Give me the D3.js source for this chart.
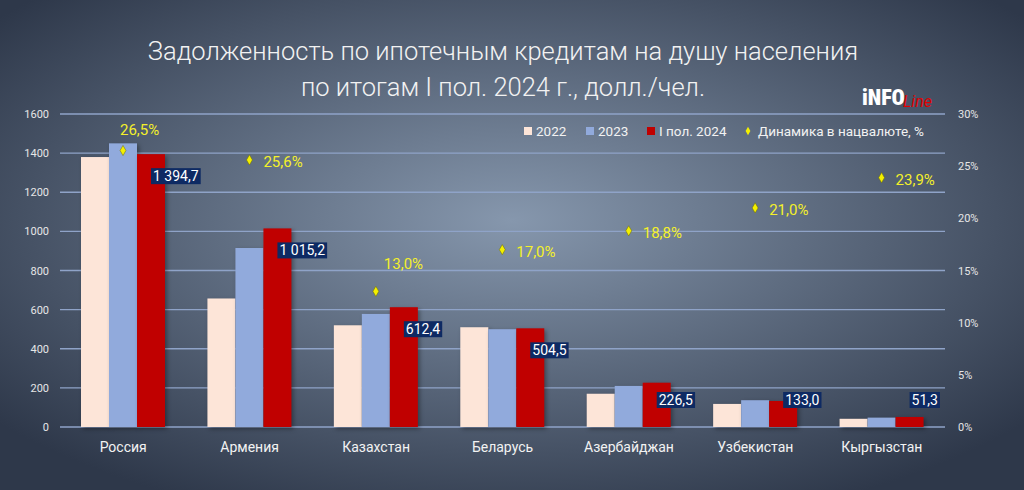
<!DOCTYPE html>
<html><head><meta charset="utf-8">
<script src="https://cdn.jsdelivr.net/npm/d3@7"></script>
<style>
body{margin:0;background:#3a4558;}
text{font-family:Roboto,"Noto Sans",sans-serif;}
</style></head>
<body><svg id="chart" width="1024" height="490"></svg>
<script>
// --- DATA ---
const countries = ["Россия","Армения","Казахстан","Беларусь","Азербайджан","Узбекистан","Кыргызстан"];
const series = ["2022","2023","I пол. 2024"];
const v2022 = [1380, 657, 520, 510, 170, 118, 42];
const v2023 = [1450, 915, 578, 500, 210, 137, 48];
const v2024 = [1394.7, 1015.2, 612.4, 504.5, 226.5, 133.0, 51.3];
const dynamics = [26.5, 25.6, 13.0, 17.0, 18.8, 21.0, 23.9];
const leftTicks = [0,200,400,600,800,1000,1200,1400,1600];
const rightTicks = [0,5,10,15,20,25,30];
const colors = ["#fde5d8", "#91aadc", "#c00000"];

const svg = d3.select("#chart");
const defs = svg.append("defs");
const grad = defs.append("radialGradient").attr("id","bg")
  .attr("cx","50%").attr("cy","45%").attr("r","65%");
grad.append("stop").attr("offset","0%").attr("stop-color","#8697ad");
grad.append("stop").attr("offset","100%").attr("stop-color","#2e384a");
svg.append("rect").attr("width",1024).attr("height",490).attr("fill","url(#bg)");

const fmt = v => d3.format(",.1f")(v).replace(/,/g," ").replace(".",",");

// Title
svg.append("text").attr("x",503).attr("y",60).attr("text-anchor","middle")
  .attr("fill","#f2f2f2").attr("font-size",25.5).attr("font-weight",300)
  .text("Задолженность по ипотечным кредитам на душу населения");
svg.append("text").attr("x",503).attr("y",96).attr("text-anchor","middle")
  .attr("fill","#f2f2f2").attr("font-size",25.5).attr("font-weight",300)
  .text("по итогам I пол. 2024 г., долл./чел.");

// Logo
svg.append("text").attr("x",862).attr("y",105).attr("fill","#fff")
  .attr("font-size",22).attr("font-weight",900).attr("font-stretch","condensed").text("iNFO");
svg.append("text").attr("x",903).attr("y",107).attr("fill","#e00000")
  .attr("font-size",16).attr("font-style","italic").attr("font-family","serif").text("Line");

const x0 = d3.scaleBand().domain(countries).range([60,945]);
const x1 = d3.scaleBand().domain(series).range([21,105]);
const y = d3.scaleLinear().domain([0,1600]).range([427,114]);
const y2 = d3.scaleLinear().domain([0,30]).range([427,114]);

// grid
svg.append("g").selectAll("line").data(leftTicks).join("line")
  .attr("x1",60).attr("x2",945).attr("y1",d=>y(d)).attr("y2",d=>y(d))
  .attr("stroke","#8fa3c8").attr("stroke-width",1.3);

const yAxis = svg.append("g").attr("transform","translate(52,0)")
  .call(d3.axisLeft(y).tickValues(leftTicks).tickSize(0).tickFormat(d3.format("d")));
yAxis.select(".domain").remove();
yAxis.selectAll("text").attr("fill","#e6e6e6").attr("font-size",11);

const yAxis2 = svg.append("g").attr("transform","translate(955,0)")
  .call(d3.axisRight(y2).tickValues(rightTicks).tickSize(0).tickFormat(d=>d+"%"));
yAxis2.select(".domain").remove();
yAxis2.selectAll("text").attr("fill","#e6e6e6").attr("font-size",11);

// bars
const all = [v2022, v2023, v2024];
const groups = svg.append("g").selectAll("g").data(countries).join("g")
  .attr("transform", d => `translate(${x0(d)},0)`);
groups.selectAll("rect").data((d,i)=>series.map((s,j)=>({s, v: all[j][i]}))).join("rect")
  .attr("x", d=>x1(d.s)).attr("width", x1.bandwidth())
  .attr("y", d=>y(d.v)).attr("height", d=>y(0)-y(d.v))
  .attr("fill", (d,j)=>colors[j])
  .style("filter","drop-shadow(2px 2px 2px rgba(0,0,0,0.35))");

// value labels
groups.each(function(d,i){
  const g = d3.select(this);
  const v = v2024[i];
  const ly = Math.min(y(v)+22, 400);
  const t = g.append("text").attr("x", x1(series[2])+x1.bandwidth()/2+2).attr("y", ly+5)
    .attr("fill","#fff").attr("font-size",14).text(fmt(v));
  const bb = t.node().getBBox();
  g.insert("rect","text:last-child").attr("x",bb.x-2).attr("y",bb.y).attr("width",bb.width+4).attr("height",bb.height)
    .attr("fill","#0e2a63");
});

// dynamics points
groups.each(function(d,i){
  const g = d3.select(this);
  const cx = x1(series[1]) + x1.bandwidth()/2;
  const cy = y2(dynamics[i]);
  g.append("path").attr("d", d3.symbol(d3.symbolDiamond,30)())
    .attr("transform",`translate(${cx},${cy})`).attr("fill","#f4f000").attr("stroke","#6b6b00").attr("stroke-width",0.5);
  let lx = cx+14, lyy = cy+7;
  if (i===0) { lx = cx-3; lyy = cy-16; }
  if (i===2) { lx = cx+8; lyy = cy-22; }
  g.append("text").attr("x",lx).attr("y",lyy).attr("fill","#f4f02a").attr("font-size",15)
    .text(d3.format(".1f")(dynamics[i]).replace(".",",")+"%");
});

// x labels
svg.append("g").selectAll("text").data(countries).join("text")
  .attr("x", d=>x0(d)+x0.bandwidth()/2).attr("y",452).attr("text-anchor","middle")
  .attr("fill","#f2f2f2").attr("font-size",14).text(d=>d);

// legend
const leg = [
  {t:"2022", c:colors[0], x:524},
  {t:"2023", c:colors[1], x:586},
  {t:"I пол. 2024", c:colors[2], x:647}
];
leg.forEach(l=>{
  svg.append("rect").attr("x",l.x).attr("y",127).attr("width",8).attr("height",8).attr("fill",l.c);
  svg.append("text").attr("x",l.x+12).attr("y",136).attr("fill","#f2f2f2").attr("font-size",13.5).text(l.t);
});
svg.append("path").attr("d", d3.symbol(d3.symbolDiamond,20)()).attr("transform","translate(748,131)").attr("fill","#f4f000");
svg.append("text").attr("x",758).attr("y",136).attr("fill","#f2f2f2").attr("font-size",13.5).text("Динамика в нацвалюте, %");
</script></body></html>
